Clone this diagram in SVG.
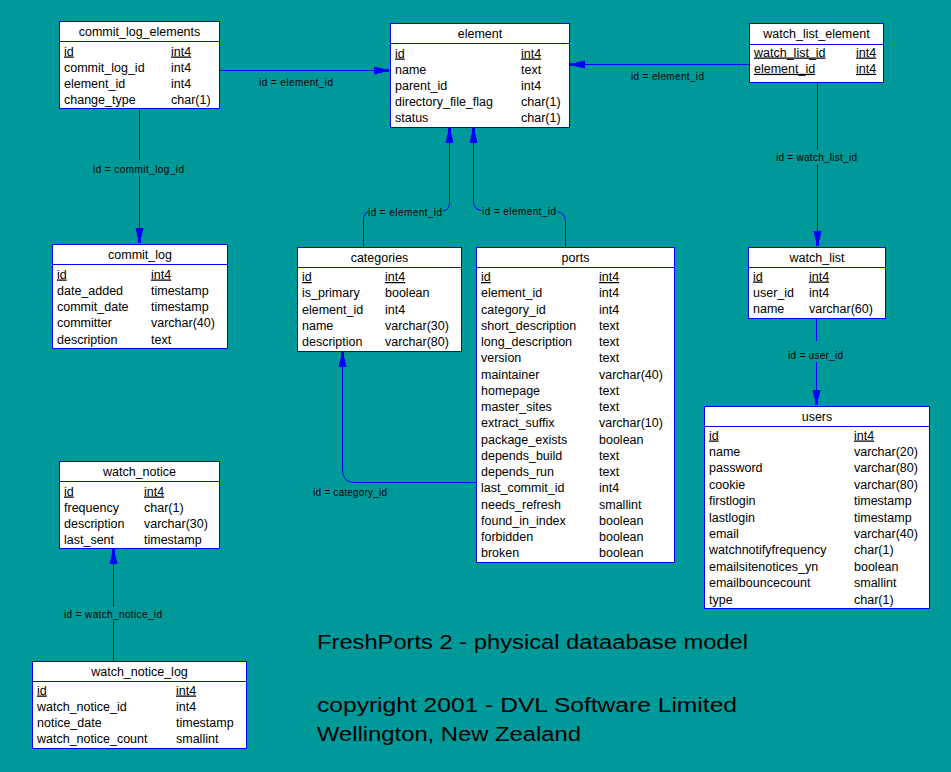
<svg xmlns="http://www.w3.org/2000/svg" width="951" height="772" viewBox="0 0 951 772">
<style>
.box{fill:#fff;stroke:#0000ff;stroke-width:1}
.hl{stroke:#0000ff;stroke-width:1}
.t{font-family:"Liberation Sans",Arial,sans-serif;font-size:12.5px;fill:#000}
.ti{font-family:"Liberation Sans",Arial,sans-serif;font-size:12.5px;fill:#000;text-anchor:middle}
.u{text-decoration:underline}
.c{fill:none;stroke:#0000ff;stroke-width:1}
.lb{font-family:"Liberation Sans",Arial,sans-serif;font-size:10px;fill:#000}
.big{font-family:"Comic Sans MS","Liberation Sans",sans-serif;font-size:20px;fill:#000}
</style>
<defs>
<marker id="arr" markerUnits="userSpaceOnUse" viewBox="0 -5 17 10" markerWidth="17" markerHeight="10" refX="16" refY="0" orient="auto">
<path d="M16,-1.5 L10,-1.5 L10,-2 L1,-4 L1,4 L10,2 L10,1.5 L16,1.5 Z" fill="#0000ff"/>
</marker>
</defs>
<rect width="951" height="772" fill="#009999"/>

<g id="connectors">
<path class="c" d="M220,70.5 H389" marker-end="url(#arr)"/>
<path class="c" d="M749,64.5 H570" marker-end="url(#arr)"/>
<path class="c" d="M139.5,109 V160 M139.5,176 V243" marker-end="url(#arr)"/>
<path class="c" d="M817.5,82 V150 M817.5,164 V246" marker-end="url(#arr)"/>
<path class="c" d="M816.5,318 V341 M816.5,362 V405" marker-end="url(#arr)"/>
<path class="c" d="M113.5,661 V621 M113.5,607 V549" marker-end="url(#arr)"/>
<path class="c" d="M363.5,247 V220 Q363.5,213 368,212 M443,211 Q449.5,210 449.5,203 V128" marker-end="url(#arr)"/>
<path class="c" d="M565.5,247 V221 Q565.5,213 557,211.5 M481,210.5 Q473.5,209 473.5,202 V128" marker-end="url(#arr)"/>
<path class="c" d="M476,482.5 H355 Q342.5,482.5 342.5,470 V352" marker-end="url(#arr)"/>
<text class="lb" x="259" y="85.5" textLength="74" lengthAdjust="spacing">id = element_id</text>
<text class="lb" x="631" y="79.5" textLength="73" lengthAdjust="spacing">id = element_id</text>
<text class="lb" x="93" y="172.5" textLength="91" lengthAdjust="spacing">id = commit_log_id</text>
<text class="lb" x="776" y="160.5" textLength="81" lengthAdjust="spacing">id = watch_list_id</text>
<text class="lb" x="788" y="358.5" textLength="55" lengthAdjust="spacing">id = user_id</text>
<text class="lb" x="368" y="215.5" textLength="74" lengthAdjust="spacing">id = element_id</text>
<text class="lb" x="482" y="214.5" textLength="74" lengthAdjust="spacing">id = element_id</text>
<text class="lb" x="313" y="495.5" textLength="74" lengthAdjust="spacing">id = category_id</text>
<text class="lb" x="64" y="617.5" textLength="98" lengthAdjust="spacing">id = watch_notice_id</text>
</g>

<g id="commit_log_elements">
<rect class="box" x="59.5" y="21.5" width="160" height="87"/>
<line class="hl" x1="59.5" y1="41.5" x2="219.5" y2="41.5"/>
<text class="ti" x="139.5" y="35.5">commit_log_elements</text>
<text class="t u" x="64" y="55.5">id</text><text class="t u" x="171" y="55.5">int4</text>
<text class="t" x="64" y="71.8">commit_log_id</text><text class="t" x="171" y="71.8">int4</text>
<text class="t" x="64" y="88.1">element_id</text><text class="t" x="171" y="88.1">int4</text>
<text class="t" x="64" y="104.4">change_type</text><text class="t" x="171" y="104.4">char(1)</text>
</g>

<g id="element">
<rect class="box" x="390.5" y="23.5" width="179" height="104"/>
<line class="hl" x1="390.5" y1="43.5" x2="569.5" y2="43.5"/>
<text class="ti" x="480" y="37.5">element</text>
<text class="t u" x="395" y="57.5">id</text><text class="t u" x="521" y="57.5">int4</text>
<text class="t" x="395" y="73.7">name</text><text class="t" x="521" y="73.7">text</text>
<text class="t" x="395" y="89.9">parent_id</text><text class="t" x="521" y="89.9">int4</text>
<text class="t" x="395" y="106.1">directory_file_flag</text><text class="t" x="521" y="106.1">char(1)</text>
<text class="t" x="395" y="122.3">status</text><text class="t" x="521" y="122.3">char(1)</text>
</g>

<g id="watch_list_element">
<rect class="box" x="749.5" y="23.5" width="134" height="59"/>
<line class="hl" x1="749.5" y1="44.5" x2="883.5" y2="44.5"/>
<text class="ti" x="816.5" y="38">watch_list_element</text>
<text class="t u" x="754" y="56.5">watch_list_id</text><text class="t u" x="856" y="56.5">int4</text>
<text class="t u" x="754" y="72.8">element_id</text><text class="t u" x="856" y="72.8">int4</text>
</g>

<g id="commit_log">
<rect class="box" x="52.5" y="244.5" width="175" height="104"/>
<line class="hl" x1="52.5" y1="264.5" x2="227.5" y2="264.5"/>
<text class="ti" x="140" y="258.5">commit_log</text>
<text class="t u" x="57" y="278.5">id</text><text class="t u" x="151" y="278.5">int4</text>
<text class="t" x="57" y="294.8">date_added</text><text class="t" x="151" y="294.8">timestamp</text>
<text class="t" x="57" y="311.1">commit_date</text><text class="t" x="151" y="311.1">timestamp</text>
<text class="t" x="57" y="327.4">committer</text><text class="t" x="151" y="327.4">varchar(40)</text>
<text class="t" x="57" y="343.7">description</text><text class="t" x="151" y="343.7">text</text>
</g>

<g id="categories">
<rect class="box" x="297.5" y="247.5" width="164" height="104"/>
<line class="hl" x1="297.5" y1="267.5" x2="461.5" y2="267.5"/>
<text class="ti" x="379.5" y="261.5">categories</text>
<text class="t u" x="302" y="281">id</text><text class="t u" x="385" y="281">int4</text>
<text class="t" x="302" y="297.3">is_primary</text><text class="t" x="385" y="297.3">boolean</text>
<text class="t" x="302" y="313.6">element_id</text><text class="t" x="385" y="313.6">int4</text>
<text class="t" x="302" y="329.9">name</text><text class="t" x="385" y="329.9">varchar(30)</text>
<text class="t" x="302" y="346.2">description</text><text class="t" x="385" y="346.2">varchar(80)</text>
</g>

<g id="ports">
<rect class="box" x="476.5" y="247.5" width="198" height="315"/>
<line class="hl" x1="476.5" y1="267.5" x2="674.5" y2="267.5"/>
<text class="ti" x="575.5" y="261.5">ports</text>
<text class="t u" x="481" y="281">id</text><text class="t u" x="599" y="281">int4</text>
<text class="t" x="481" y="297.25">element_id</text><text class="t" x="599" y="297.25">int4</text>
<text class="t" x="481" y="313.5">category_id</text><text class="t" x="599" y="313.5">int4</text>
<text class="t" x="481" y="329.75">short_description</text><text class="t" x="599" y="329.75">text</text>
<text class="t" x="481" y="346">long_description</text><text class="t" x="599" y="346">text</text>
<text class="t" x="481" y="362.25">version</text><text class="t" x="599" y="362.25">text</text>
<text class="t" x="481" y="378.5">maintainer</text><text class="t" x="599" y="378.5">varchar(40)</text>
<text class="t" x="481" y="394.75">homepage</text><text class="t" x="599" y="394.75">text</text>
<text class="t" x="481" y="411">master_sites</text><text class="t" x="599" y="411">text</text>
<text class="t" x="481" y="427.25">extract_suffix</text><text class="t" x="599" y="427.25">varchar(10)</text>
<text class="t" x="481" y="443.5">package_exists</text><text class="t" x="599" y="443.5">boolean</text>
<text class="t" x="481" y="459.75">depends_build</text><text class="t" x="599" y="459.75">text</text>
<text class="t" x="481" y="476">depends_run</text><text class="t" x="599" y="476">text</text>
<text class="t" x="481" y="492.25">last_commit_id</text><text class="t" x="599" y="492.25">int4</text>
<text class="t" x="481" y="508.5">needs_refresh</text><text class="t" x="599" y="508.5">smallint</text>
<text class="t" x="481" y="524.75">found_in_index</text><text class="t" x="599" y="524.75">boolean</text>
<text class="t" x="481" y="541">forbidden</text><text class="t" x="599" y="541">boolean</text>
<text class="t" x="481" y="557.25">broken</text><text class="t" x="599" y="557.25">boolean</text>
</g>

<g id="watch_list">
<rect class="box" x="748.5" y="247.5" width="137" height="71"/>
<line class="hl" x1="748.5" y1="267.5" x2="885.5" y2="267.5"/>
<text class="ti" x="817" y="261.5">watch_list</text>
<text class="t u" x="753" y="280.5">id</text><text class="t u" x="809" y="280.5">int4</text>
<text class="t" x="753" y="296.8">user_id</text><text class="t" x="809" y="296.8">int4</text>
<text class="t" x="753" y="313.1">name</text><text class="t" x="809" y="313.1">varchar(60)</text>
</g>

<g id="users">
<rect class="box" x="704.5" y="406.5" width="225" height="202"/>
<line class="hl" x1="704.5" y1="426.5" x2="929.5" y2="426.5"/>
<text class="ti" x="817" y="420.5">users</text>
<text class="t u" x="709" y="439.5">id</text><text class="t u" x="854" y="439.5">int4</text>
<text class="t" x="709" y="455.9">name</text><text class="t" x="854" y="455.9">varchar(20)</text>
<text class="t" x="709" y="472.3">password</text><text class="t" x="854" y="472.3">varchar(80)</text>
<text class="t" x="709" y="488.7">cookie</text><text class="t" x="854" y="488.7">varchar(80)</text>
<text class="t" x="709" y="505.1">firstlogin</text><text class="t" x="854" y="505.1">timestamp</text>
<text class="t" x="709" y="521.5">lastlogin</text><text class="t" x="854" y="521.5">timestamp</text>
<text class="t" x="709" y="537.9">email</text><text class="t" x="854" y="537.9">varchar(40)</text>
<text class="t" x="709" y="554.3">watchnotifyfrequency</text><text class="t" x="854" y="554.3">char(1)</text>
<text class="t" x="709" y="570.7">emailsitenotices_yn</text><text class="t" x="854" y="570.7">boolean</text>
<text class="t" x="709" y="587.1">emailbouncecount</text><text class="t" x="854" y="587.1">smallint</text>
<text class="t" x="709" y="603.5">type</text><text class="t" x="854" y="603.5">char(1)</text>
</g>

<g id="watch_notice">
<rect class="box" x="59.5" y="461.5" width="160" height="87"/>
<line class="hl" x1="59.5" y1="481.5" x2="219.5" y2="481.5"/>
<text class="ti" x="139.5" y="475.5">watch_notice</text>
<text class="t u" x="64" y="495.5">id</text><text class="t u" x="144" y="495.5">int4</text>
<text class="t" x="64" y="511.8">frequency</text><text class="t" x="144" y="511.8">char(1)</text>
<text class="t" x="64" y="528.1">description</text><text class="t" x="144" y="528.1">varchar(30)</text>
<text class="t" x="64" y="544.4">last_sent</text><text class="t" x="144" y="544.4">timestamp</text>
</g>

<g id="watch_notice_log">
<rect class="box" x="32.5" y="661.5" width="214" height="87"/>
<line class="hl" x1="32.5" y1="681.5" x2="246.5" y2="681.5"/>
<text class="ti" x="139.5" y="675.5">watch_notice_log</text>
<text class="t u" x="37" y="694.5">id</text><text class="t u" x="176" y="694.5">int4</text>
<text class="t" x="37" y="710.8">watch_notice_id</text><text class="t" x="176" y="710.8">int4</text>
<text class="t" x="37" y="727.1">notice_date</text><text class="t" x="176" y="727.1">timestamp</text>
<text class="t" x="37" y="743.4">watch_notice_count</text><text class="t" x="176" y="743.4">smallint</text>
</g>

<g id="caption">
<text class="big" x="317" y="649" textLength="431" lengthAdjust="spacingAndGlyphs">FreshPorts 2 - physical dataabase model</text>
<text class="big" x="317" y="712" textLength="420" lengthAdjust="spacingAndGlyphs">copyright 2001 - DVL Software Limited</text>
<text class="big" x="317" y="741" textLength="264" lengthAdjust="spacingAndGlyphs">Wellington, New Zealand</text>
</g>
</svg>
